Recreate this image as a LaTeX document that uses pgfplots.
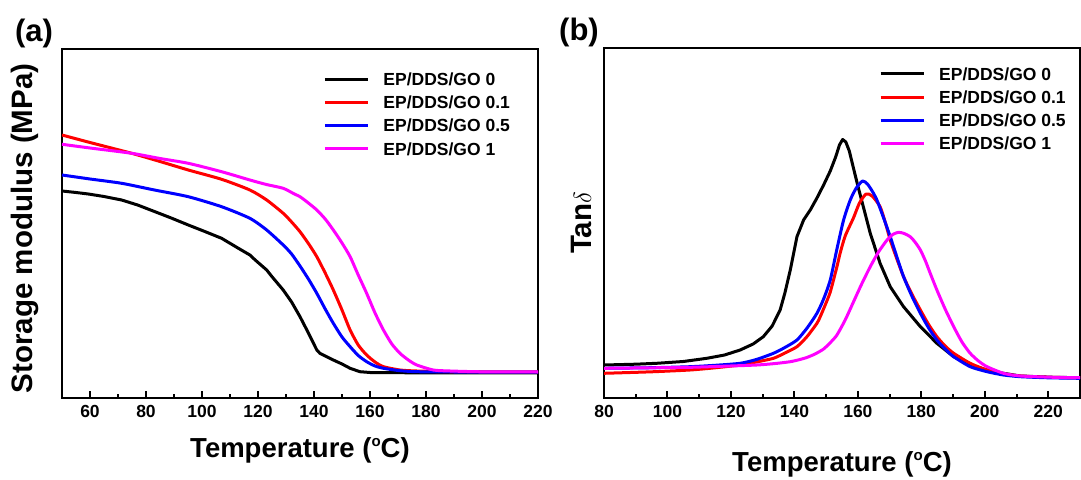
\documentclass[border=0pt]{standalone}
\usepackage{fontspec}
\setmainfont{Liberation Sans}
\usepackage{pgfplots}
\pgfplotsset{compat=1.18}
\definecolor{cmag}{RGB}{255,0,255}
\definecolor{cred}{RGB}{255,0,0}
\definecolor{cblue}{RGB}{0,0,255}

\pgfplotsset{
  myax/.style={
    scale only axis,
    width=476pt,
    axis line style={line width=2.5pt},
    every tick/.style={line width=2pt, black},
    major tick length=7pt,
    minor tick length=4pt,
    tick align=inside,
    xtick pos=bottom,
    ytick=\empty,
    minor x tick num=1,
    /pgf/number format/assume math mode=true,
    xticklabel style={font=\fontsize{17.5}{17.5}\selectfont\bfseries, yshift=-4pt},
    xlabel style={font=\fontsize{27.5}{27.5}\selectfont\bfseries},
    ylabel style={font=\fontsize{29.5}{29.5}\selectfont\bfseries},
    every axis plot/.append style={line width=3pt, line join=round},
    legend style={draw=none, fill=none, font=\fontsize{17.5}{17.5}\selectfont\bfseries,
      anchor=north west, column sep=14pt, row sep=10.5pt,
      nodes={inner sep=0pt, text height=12.6pt, text depth=0pt}},
    legend cell align=left,
    legend image code/.code={\draw[#1] (0pt,0pt) -- (43pt,0pt);},
  }
}
\newcommand{\degC}{(\raisebox{0.75ex}{\fontsize{15}{15}\selectfont o}C)}

\begin{document}
\begin{tikzpicture}
\path[use as bounding box] (0,0) rectangle (1081pt,479pt);

\begin{axis}[myax,
  at={(62pt,81pt)}, anchor=south west,
  height=349pt,
  xmin=50, xmax=220, ymin=0, ymax=349,
  xtick={60,80,...,220},
  xlabel={Temperature \degC},
  xlabel style={at={(axis description cs:0.5,0)}, anchor=center, yshift=-52pt},
  ylabel={Storage modulus (MPa)},
  ylabel style={at={(axis description cs:-0.078,0.486)}, anchor=center},
  legend style={at={(axis description cs:0.5425,0.937)}},
]
\addplot[black] coordinates {
(50,207) (55,205.5) (59.4,204) (65,201.5) (71.3,198) (77,193) (83.2,186.3) (89,180) (95.1,173) (101,166.5) (107,159.7) (113,149.7) (117.1,143) (119,138) (123.1,128) (125,121.3) (129,108) (132,96) (135,81.3) (138,65) (141,48) (142.1,44.7) (146.9,38) (150,34) (152.9,29.7) (156.4,26.3) (160,25.5) (164.8,25.3) (180,25.2) (200,25.2) (220,25.2)
};
\addplot[cred, smooth, tension=0.4] coordinates {
(50,263) (60,255.5) (74.9,244.7) (85,236.5) (95.1,228) (107,218.7) (117.1,208) (123.1,198) (129,184.7) (132,176) (135,166.3) (138,154.5) (141,141.3) (144,125) (146.9,108) (150,88) (152.9,68) (155.8,53) (158.8,43) (161.8,36) (164.8,31.3) (170.7,28) (176.7,27) (190,26.2) (220,26)
};
\addplot[cblue, smooth, tension=0.4] coordinates {
(50,223) (60,219) (71.3,214.7) (83,208) (95.1,201.3) (107,191.3) (117.1,179.7) (123.1,168) (129,153) (132,144) (135,132) (138,119) (141,104.7) (144,89) (146.9,74.7) (150,61) (152.9,51.3) (155.8,42.5) (158.8,36.3) (161.8,32) (164.8,29.7) (170.7,27.3) (176.7,26.3) (190,26) (220,26)
};
\addplot[cmag, smooth, tension=0.4] coordinates {
(50,253.7) (60,250) (74.9,244.7) (85,239.5) (95.1,234.7) (107,226.3) (117.1,218) (123,213.5) (129,209.7) (133,204) (135,201.3) (138,195) (141,188) (144,179) (146.9,168) (150,155) (152.9,141.3) (155.8,123) (158.8,104.7) (161.8,85) (164.8,68) (167.8,54) (170.7,44.7) (173.7,38) (176.7,33) (182.6,28) (188.6,27) (200,26.2) (220,26)
};
\legend{EP/DDS/GO 0, EP/DDS/GO 0.1, EP/DDS/GO 0.5, EP/DDS/GO 1}
\end{axis}

\begin{axis}[myax,
  at={(604pt,81pt)}, anchor=south west,
  height=350pt,
  xmin=80, xmax=230, ymin=0, ymax=350,
  xtick={80,100,...,220},
  xlabel={Temperature \degC},
  xlabel style={at={(axis description cs:0.5,0)}, anchor=center, yshift=-66pt},
  ylabel={Tan$\delta$},
  ylabel style={at={(axis description cs:-0.048,0.5)}, anchor=center},
  legend style={at={(axis description cs:0.5715,0.950)}},
]
\addplot[black] coordinates {
(80,33) (90,33.8) (96.6,34.7) (105,36.5) (112.4,39.7) (118,43) (122.9,48) (127,54) (130.2,61.3) (133,72) (135.5,88) (137,105) (138.7,128) (140.8,161.3) (142.9,178) (145,188) (147.1,200) (149.2,213) (151.3,227) (153,241) (154.2,253) (155.2,258.5) (156.2,256) (157.3,247) (158.6,230) (160,212) (161.3,196.3) (163.9,164.7) (167,134.7) (170.2,111.3) (174.4,91.3) (179.7,71.3) (184.9,54.7) (190.2,41.3) (195.4,33) (200.7,28) (205.9,24.7) (211.2,22) (221.7,20.7) (230,20.3)
};
\addplot[cred, smooth, tension=0.4] coordinates {
(80,24.7) (95,26.2) (107.1,28) (115,30.2) (122.9,33) (128,36) (133.4,39.7) (137,45) (140.8,51.3) (144,61.5) (147.1,74.7) (148.1,81) (149.7,93) (151.3,106) (153.4,131.3) (154.4,144.7) (156,162) (158.6,180) (160.5,195) (162.6,204) (164.5,202) (167,191.3) (168.6,176) (170.2,158) (172.3,139) (174.4,121.3) (177,104) (179.7,88) (182.3,73.5) (184.9,61.3) (187.5,52) (190.2,44.7) (195.4,34.7) (200.7,28) (205.9,24) (211.2,22) (220,20.7) (230,20.3)
};
\addplot[cblue, smooth, tension=0.4] coordinates {
(80,29.7) (95,30.3) (107.1,31.3) (115,32.7) (122.9,34.7) (128,38.5) (133.4,44.7) (137,50.5) (140.8,58) (144,70) (147.1,84.7) (149.2,99) (151.3,118) (153.4,149) (155.5,178) (157.6,198) (159.5,210) (161.5,217) (163,214) (164.5,207) (166,198) (168,181) (170.2,161.3) (172.3,141) (174.4,121.3) (177,102) (179.7,84.7) (182.3,70) (184.9,58) (187.5,49) (190.2,41.3) (195.4,31.3) (200.7,26.3) (205.9,23) (211.2,21.3) (220,20.2) (230,19.7)
};
\addplot[cmag, smooth, tension=0.4] coordinates {
(80,29.7) (95,30.2) (107.1,30.7) (118,31.8) (128.2,33) (134,34.5) (138.7,36.3) (141.5,38.3) (143.9,40.5) (146.5,44) (149.2,49) (151.5,56) (153.4,63) (156,78) (158.6,96) (161.2,114) (163.9,131.3) (166.5,146) (169.2,158) (171,163.5) (172.8,165.7) (174.6,164.5) (176.5,161.3) (178,156) (179.7,148) (181.3,137) (182.8,124.7) (184.9,108) (187.5,89) (190.2,71.3) (192.8,56) (195.4,44.7) (198,37) (200.7,31.3) (205.9,24.7) (211.2,22) (221.7,20.7) (230,20.3)
};
\legend{EP/DDS/GO 0, EP/DDS/GO 0.1, EP/DDS/GO 0.5, EP/DDS/GO 1}
\end{axis}

\node[font=\fontsize{31}{31}\selectfont\bfseries] at (34pt,446pt) {(a)};
\node[font=\fontsize{31}{31}\selectfont\bfseries] at (579pt,447pt) {(b)};
\end{tikzpicture}
\end{document}
